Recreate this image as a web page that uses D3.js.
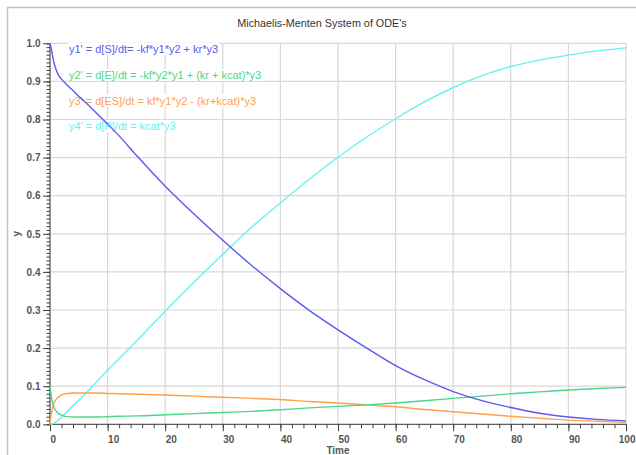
<!DOCTYPE html>
<html>
<head>
<meta charset="utf-8">
<script src="https://cdn.jsdelivr.net/npm/d3@7"></script>
<style>
  html, body { margin: 0; padding: 0; background: #fff; }
  svg { display: block; font-family: "Liberation Sans", Arial, sans-serif; }
</style>
</head>
<body>
<svg id="chart" width="636" height="455"></svg>
<script>
// ---- data ----
const time = [0, 0.25, 0.5, 1, 1.5, 2, 3, 4, 5, 6, 8, 10, 12, 15, 20, 25, 30, 35, 40, 45, 50, 55, 60, 65, 70, 75, 80, 85, 90, 95, 100];
const y1S  = [1.0, 0.984, 0.962, 0.933, 0.916, 0.906, 0.890, 0.876, 0.861, 0.847, 0.818, 0.788, 0.757, 0.706, 0.625, 0.552, 0.483, 0.417, 0.356, 0.299, 0.248, 0.200, 0.154, 0.117, 0.086, 0.062, 0.044, 0.029, 0.019, 0.013, 0.009];
const y2E  = [0.1, 0.072, 0.053, 0.036, 0.028, 0.024, 0.020, 0.019, 0.019, 0.019, 0.019, 0.020, 0.021, 0.022, 0.025, 0.028, 0.031, 0.034, 0.038, 0.043, 0.047, 0.051, 0.056, 0.062, 0.068, 0.074, 0.080, 0.085, 0.090, 0.094, 0.097];
const y3ES = [0, 0.028, 0.047, 0.064, 0.072, 0.077, 0.081, 0.082, 0.082, 0.082, 0.082, 0.081, 0.080, 0.079, 0.077, 0.074, 0.071, 0.068, 0.065, 0.060, 0.056, 0.051, 0.046, 0.039, 0.033, 0.027, 0.021, 0.016, 0.011, 0.008, 0.005];
const y4P  = [0, 0.0005, 0.002, 0.006, 0.012, 0.019, 0.034, 0.049, 0.063, 0.078, 0.110, 0.142, 0.172, 0.218, 0.297, 0.373, 0.446, 0.517, 0.581, 0.643, 0.701, 0.754, 0.802, 0.846, 0.884, 0.915, 0.939, 0.956, 0.969, 0.980, 0.988];
const seriesNames = ["y1' = d[S]/dt= -kf*y1*y2 + kr*y3",
                     "y2' = d[E]/dt = -kf*y2*y1 + (kr + kcat)*y3",
                     "y3' = d[ES]/dt = kf*y1*y2 - (kr+kcat)*y3",
                     "y4' = d[P]/dt = kcat*y3"];
const seriesColors = ["#5a5af0", "#4cd68a", "#ffa04c", "#66f2f2"];
const xTicks = [0, 10, 20, 30, 40, 50, 60, 70, 80, 90, 100];
const yTicks = [0, 0.1, 0.2, 0.3, 0.4, 0.5, 0.6, 0.7, 0.8, 0.9, 1.0];
const titleText = "Michaelis-Menten System of ODE's";
const xLabel = "Time";
const yLabel = "y";

// ---- drawing ----
const svg = d3.select("#chart");
const pL = 50, pR = 626, pT = 43.3, pB = 424.3;
const x = d3.scaleLinear().domain([0, 100]).range([pL, pR]);
const y = d3.scaleLinear().domain([0, 1]).range([pB, pT]);

// outer frame
svg.append("rect").attr("x", 7.5).attr("y", 7.5).attr("width", 700).attr("height", 500)
  .attr("fill", "none").attr("stroke", "#c4c4c4").attr("stroke-width", 1.5);

// title
svg.append("text").attr("x", 322).attr("y", 27).attr("text-anchor", "middle")
  .attr("font-size", "10.8px").attr("fill", "#333").text(titleText);

// grid
const grid = svg.append("g").attr("stroke", "#d8d8d8").attr("stroke-width", 1.2);
grid.selectAll("line.v").data(xTicks).join("line").attr("class", "v")
  .attr("x1", d => x(d)).attr("x2", d => x(d)).attr("y1", pT).attr("y2", pB);
grid.selectAll("line.h").data(yTicks).join("line").attr("class", "h")
  .attr("x1", pL).attr("x2", pR).attr("y1", d => y(d)).attr("y2", d => y(d));

// legend text with white boxes (under curves, over grid)
const legend = svg.append("g");
const baselines = [53, 79, 104.5, 130];
seriesNames.forEach((name, i) => {
  const g = legend.append("g");
  const t = g.append("text").attr("x", 69).attr("y", baselines[i])
    .attr("font-size", "11px").attr("fill", seriesColors[i]).text(name);
  const bb = t.node().getBBox();
  g.insert("rect", "text").attr("x", bb.x - 1).attr("y", bb.y).attr("width", bb.width + 2)
    .attr("height", bb.height).attr("fill", "#fff");
});

// axes
const axisColor = "#404040";
const yMinor = d3.range(0, 101).map(d => d / 100);
const xMinor = d3.range(0, 101, 2);
const gyMinor = svg.append("g").attr("transform", `translate(${pL},0)`)
  .call(d3.axisLeft(y).tickValues(yMinor).tickSize(3.5).tickFormat(""));
const gy = svg.append("g").attr("transform", `translate(${pL},0)`)
  .call(d3.axisLeft(y).tickValues(yTicks).tickSize(7).tickPadding(2.5).tickFormat(d3.format(".1f")));
const gxMinor = svg.append("g").attr("transform", `translate(0,${pB})`)
  .call(d3.axisBottom(x).tickValues(xMinor).tickSize(4).tickFormat(""));
const gx = svg.append("g").attr("transform", `translate(0,${pB})`)
  .call(d3.axisBottom(x).tickValues(xTicks).tickSize(7).tickFormat(d3.format("d")));
[gyMinor, gy, gxMinor, gx].forEach(g => {
  g.selectAll("line").attr("stroke", axisColor);
  g.selectAll("path.domain").remove();
});
gy.selectAll("text").attr("font-size", "10px").attr("font-weight", "bold").attr("fill", "#555")
  .attr("font-family", "Liberation Sans, Arial, sans-serif");
gx.selectAll("text").attr("font-size", "10px").attr("font-weight", "bold").attr("fill", "#555")
  .attr("font-family", "Liberation Sans, Arial, sans-serif")
  .attr("text-anchor", d => d === 100 ? "end" : "start")
  .attr("x", d => d === 100 ? 9 : 0).attr("y", 12).attr("dy", "0.71em");
svg.append("line").attr("x1", pL).attr("x2", pL).attr("y1", pT).attr("y2", pB + 0.5)
  .attr("stroke", axisColor);
svg.append("line").attr("x1", pL).attr("x2", pR + 0.5).attr("y1", pB).attr("y2", pB)
  .attr("stroke", axisColor);

// axis labels
svg.append("text").attr("x", (pL + pR) / 2).attr("y", 453.5).attr("text-anchor", "middle")
  .attr("font-size", "10px").attr("font-weight", "bold").attr("fill", "#555").text(xLabel);
svg.append("text").attr("transform", `translate(20,${(pT + pB) / 2}) rotate(-90)`)
  .attr("text-anchor", "middle").attr("font-size", "10px").attr("font-weight", "bold")
  .attr("fill", "#555").text(yLabel);

// curves
const line = d3.line().x((d, i) => x(time[i])).y(d => y(d)).curve(d3.curveMonotoneX);
const series = [y1S, y2E, y3ES, y4P];
const drawOrder = [3, 2, 1, 0];
svg.append("g").selectAll("path").data(drawOrder).join("path")
  .attr("d", i => line(series[i])).attr("fill", "none")
  .attr("stroke", i => seriesColors[i]).attr("stroke-width", 1.4);
</script>
</body>
</html>
